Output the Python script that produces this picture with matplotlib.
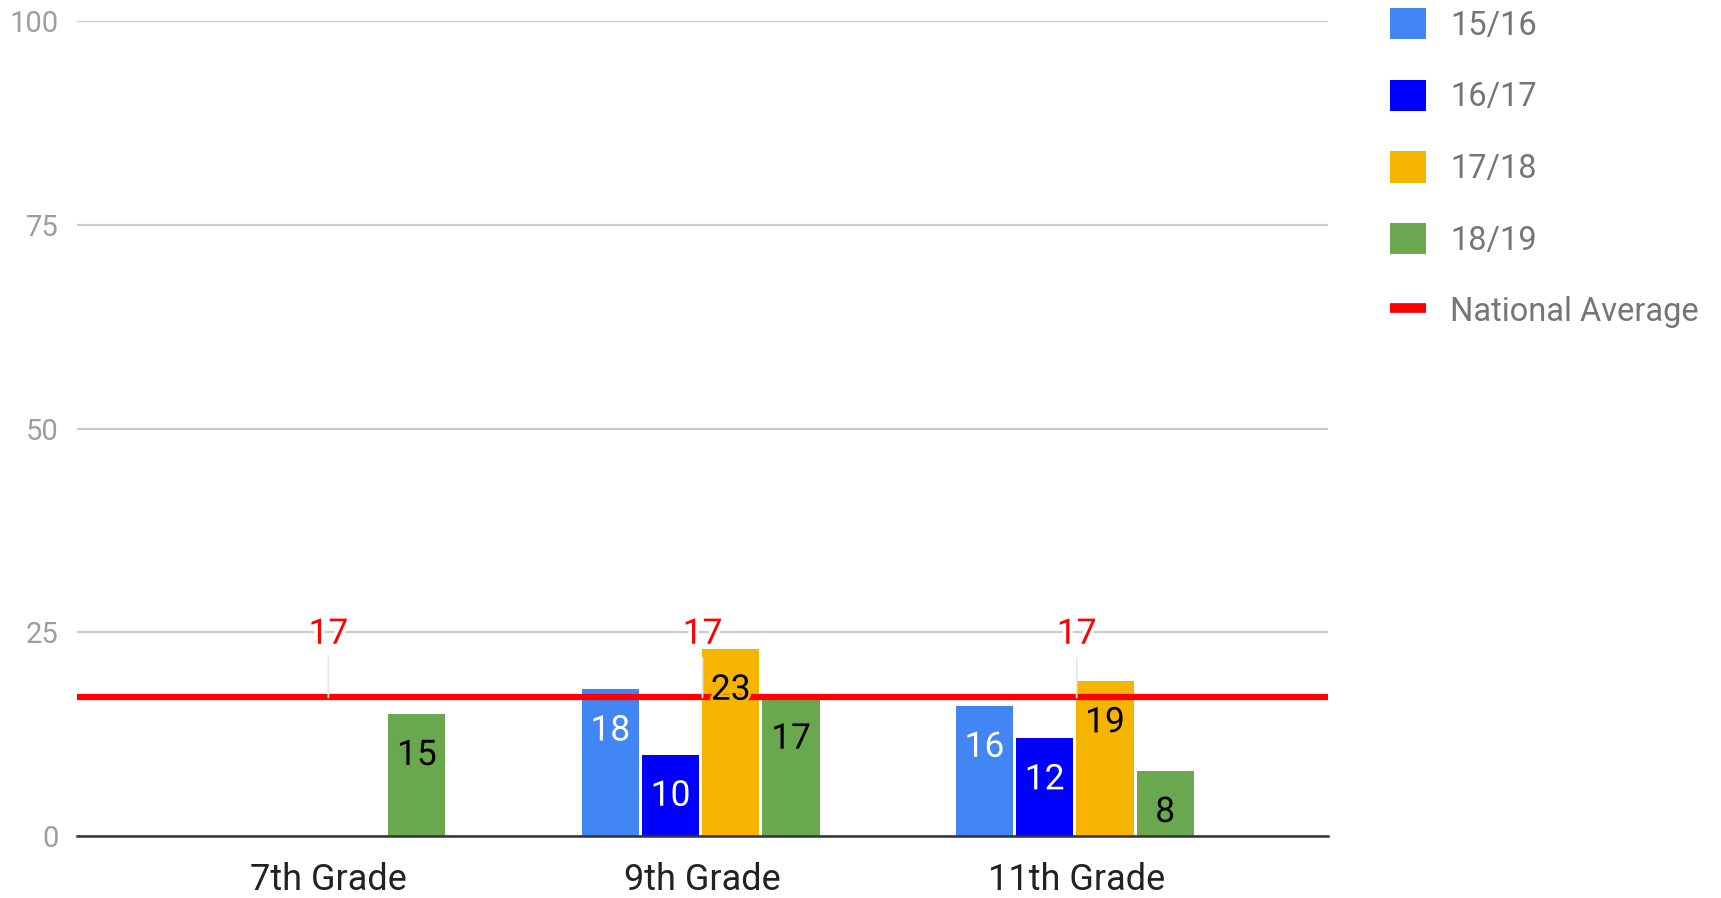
"""Grade-level scores by school year vs national average."""

import numpy as np
import matplotlib
matplotlib.use("Agg")
import matplotlib.pyplot as plt
import matplotlib.patheffects as pe
from matplotlib.lines import Line2D
from matplotlib.patches import Patch

grades = ["7th Grade", "9th Grade", "11th Grade"]
years = ["15/16", "16/17", "17/18", "18/19"]
s1516 = [np.nan, 18, 16]
s1617 = [np.nan, 10, 12]
s1718 = [np.nan, 23, 19]
s1819 = [15, 17, 8]
national = [17, 17, 17]
yticks = [0, 25, 50, 75, 100]

colors = ["#4285f4", "#0000ff", "#f4b400", "#6aa84f"]
label_colors = ["white", "white", "black", "black"]
red = "#ff0000"

plt.rcParams["font.family"] = ["Roboto", "DejaVu Sans"]

fig = plt.figure(figsize=(17.21, 8.98), dpi=100)
ax = fig.add_axes([0.0447, 0.069, 0.7270, 0.9076])

x = np.arange(len(grades))
width = 0.153
step = 0.161
series = [s1516, s1617, s1718, s1819]

for i, (vals, col) in enumerate(zip(series, colors)):
    xs = x + (i - 1.5) * step - 0.005
    ax.bar(xs, vals, width, color=col, zorder=2, label=years[i])
    for xi, v in zip(xs, vals):
        if np.isnan(v):
            continue
        ax.annotate(str(v), (xi, v), xytext=(0, -30), textcoords="offset points",
                    ha="center", va="center", fontsize=25.5,
                    color=label_colors[i], zorder=5,
                    path_effects=[pe.withStroke(linewidth=4, foreground=col)])

# national average line, stretched to the plot edges
xlo, xhi = -0.672, 2.672
ax.plot(np.r_[xlo, x, xhi], np.r_[national[0], national, national[-1]],
        color=red, lw=4.5, zorder=3, solid_capstyle="butt")
for xi, v in zip(x, national):
    ax.annotate(str(v), (xi, v), xytext=(0, 45.5), textcoords="offset points",
                ha="center", va="center", fontsize=25.5, color=red, zorder=6,
                path_effects=[pe.withStroke(linewidth=5, foreground="white")],
                arrowprops=dict(arrowstyle="-", color="#e6e6e6", lw=1.3,
                                shrinkA=3, shrinkB=0))

ax.set_xlim(xlo, xhi)
ax.set_ylim(0, 100)
ax.set_yticks(yticks)
ax.set_xticks(x)
ax.set_xticklabels(grades, fontsize=26, color="#222222")
ax.tick_params(axis="y", labelsize=21, labelcolor="#9e9e9e", length=0, pad=13)
ax.tick_params(axis="x", length=0, pad=19)
ax.grid(axis="y", color="#cccccc", lw=1.6, zorder=0)
ax.set_axisbelow(True)
for side in ["top", "right", "left"]:
    ax.spines[side].set_visible(False)
ax.spines["bottom"].set_color("#333333")
ax.spines["bottom"].set_linewidth(1.8)
ax.spines["bottom"].set_zorder(4)

handles = [Patch(facecolor=c, edgecolor="none") for c in colors]
handles.append(Line2D([], [], color=red, lw=7, solid_capstyle="butt"))
leg = fig.legend(handles, years + ["National Average"], loc="upper left",
                 bbox_to_anchor=(0.8077, 0.991), frameon=False, fontsize=23.5,
                 handlelength=1.1, handleheight=1.1, handletextpad=0.75,
                 labelspacing=1.16, borderpad=0, borderaxespad=0)
for t in leg.get_texts():
    t.set_color("#757575")

fig.savefig("out.png", dpi=100)
